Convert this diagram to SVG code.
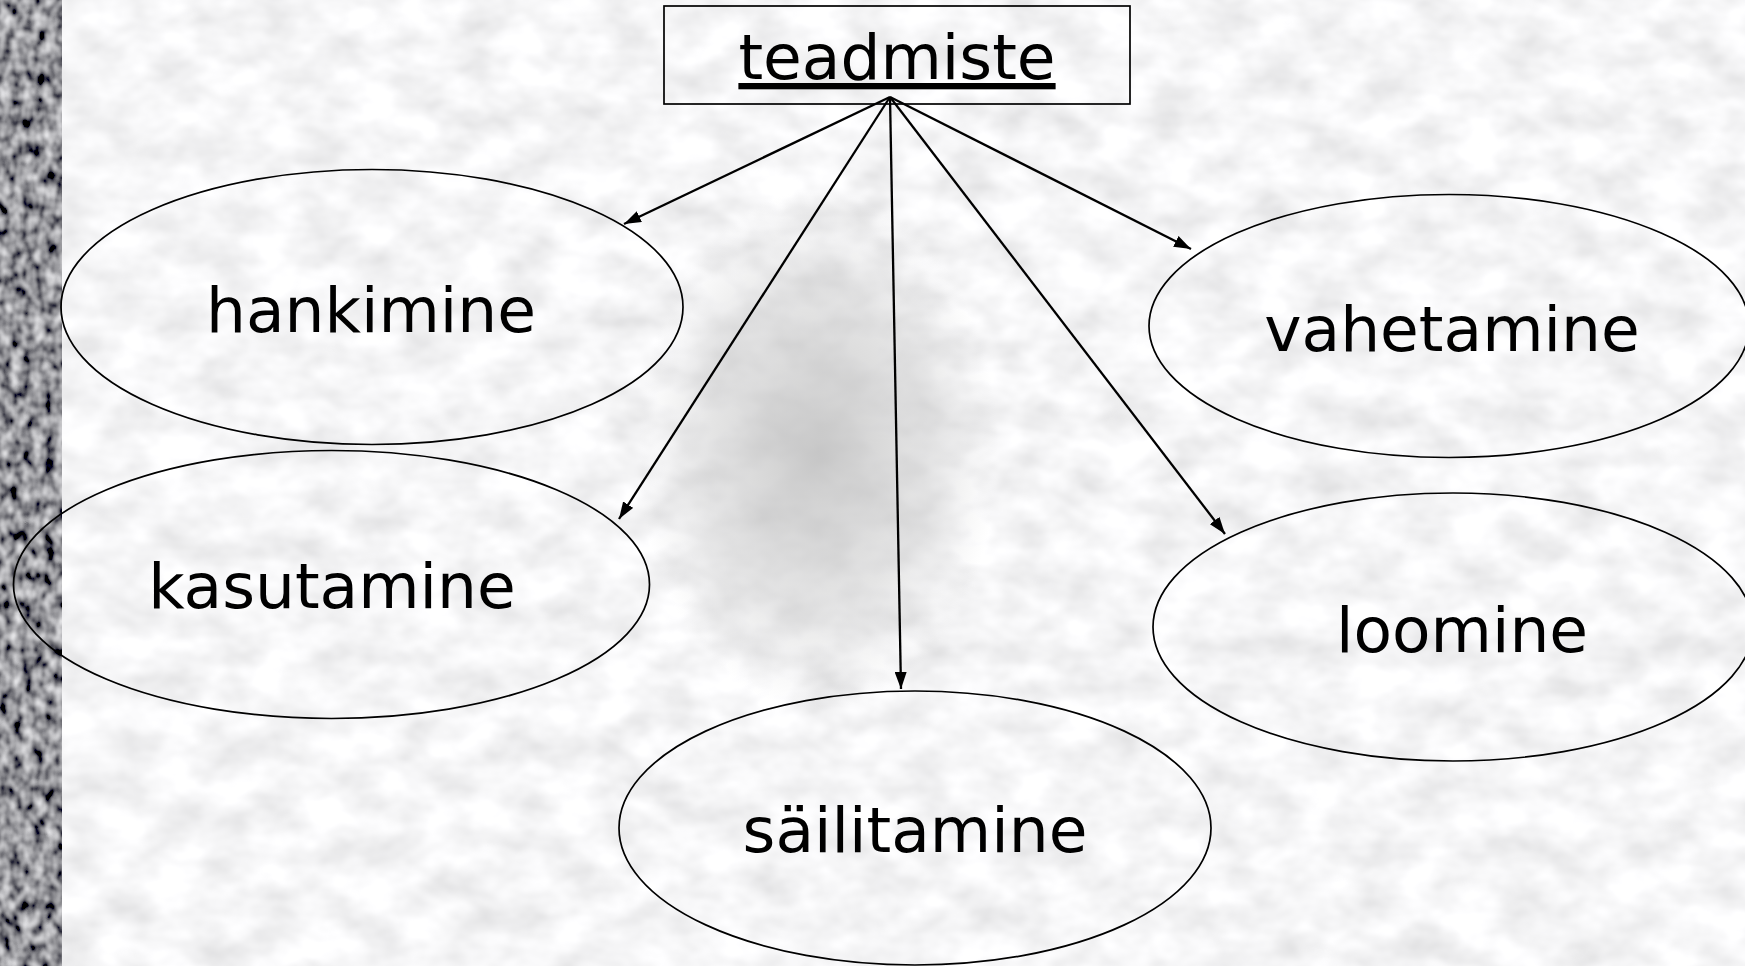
<svg xmlns="http://www.w3.org/2000/svg" width="1745" height="966" viewBox="0 0 1745 966">
  <defs>
    <style>
      .node { fill: none; stroke: #000; stroke-width: 1.7; }
      .lbl { font-family: "DejaVu Sans", "Liberation Sans", sans-serif; font-size: 63px; fill: #000; text-anchor: middle; }
      .conn { stroke: #000; stroke-width: 2.3; fill: none; marker-end: url(#arrow); }
    </style>
    <marker id="arrow" markerUnits="userSpaceOnUse" markerWidth="18" markerHeight="12" refX="17" refY="6" orient="auto">
      <path d="M0,0 L17,6 L0,12 z" fill="#000"/>
    </marker>
    <filter id="texLight" x="0" y="0" width="100%" height="100%">
      <feTurbulence type="fractalNoise" baseFrequency="0.02 0.03" numOctaves="3" seed="7"/>
      <feColorMatrix type="matrix" values="0.4 0 0 0 0.72  0.4 0 0 0 0.72  0.4 0 0 0 0.73  0 0 0 0 1"/>
    </filter>
    <filter id="texDark" x="0" y="0" width="100%" height="100%">
      <feTurbulence type="fractalNoise" baseFrequency="0.09 0.07" numOctaves="2" seed="3"/>
      <feColorMatrix type="matrix" values="1.3 0 0 0 -0.35  1.3 0 0 0 -0.35  1.3 0 0 0 -0.33  0 0 0 0 1"/>
    </filter>
    <radialGradient id="blob" cx="0.5" cy="0.5" r="0.5">
      <stop offset="0" stop-color="#bcbcbc" stop-opacity="0.8"/>
      <stop offset="0.6" stop-color="#c4c4c4" stop-opacity="0.45"/>
      <stop offset="1" stop-color="#cccccc" stop-opacity="0"/>
    </radialGradient>
  </defs>

  <g id="background">
    <rect x="0" y="0" width="1745" height="966" fill="#e6e6e6"/>
    <rect x="0" y="0" width="1745" height="966" filter="url(#texLight)"/>
    <ellipse cx="818" cy="450" rx="180" ry="260" fill="url(#blob)"/>
    <rect x="0" y="0" width="62" height="966" filter="url(#texDark)"/>
  </g>

  <g id="connectors">
    <line class="conn" x1="890" y1="97" x2="624" y2="224"/>
    <line class="conn" x1="890" y1="97" x2="619" y2="519"/>
    <line class="conn" x1="890" y1="97" x2="901" y2="689"/>
    <line class="conn" x1="890" y1="97" x2="1225" y2="534"/>
    <line class="conn" x1="890" y1="97" x2="1191" y2="249"/>
  </g>

  <g id="node-teadmiste">
    <rect class="node" x="664" y="6" width="466" height="98"/>
    <text class="lbl" x="897" y="79" text-decoration="underline">teadmiste</text>
  </g>

  <g id="node-hankimine">
    <ellipse class="node" cx="372" cy="307" rx="311" ry="137.5"/>
    <text class="lbl" x="371" y="332">hankimine</text>
  </g>

  <g id="node-kasutamine">
    <ellipse class="node" cx="331.5" cy="584.5" rx="318" ry="134"/>
    <text class="lbl" x="332" y="608">kasutamine</text>
  </g>

  <g id="node-sailitamine">
    <ellipse class="node" cx="915" cy="828" rx="296" ry="137"/>
    <text class="lbl" x="915" y="852">säilitamine</text>
  </g>

  <g id="node-vahetamine">
    <ellipse class="node" cx="1449" cy="326" rx="300" ry="131.5"/>
    <text class="lbl" x="1452" y="351">vahetamine</text>
  </g>

  <g id="node-loomine">
    <ellipse class="node" cx="1453" cy="627" rx="300" ry="134"/>
    <text class="lbl" x="1462" y="652">loomine</text>
  </g>
</svg>
